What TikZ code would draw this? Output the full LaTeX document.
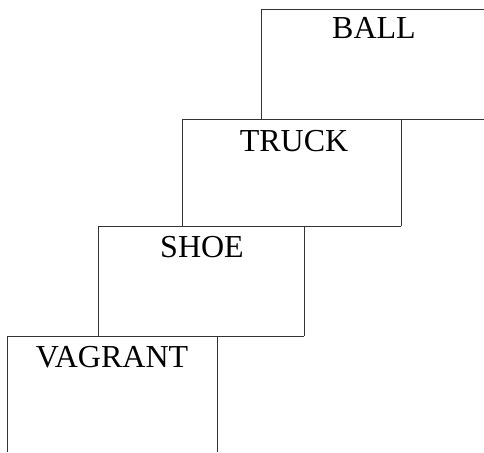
\documentclass[tikz,border=0pt]{standalone}
\usepackage{fontspec}
\setmainfont{Liberation Serif}
\begin{document}
\begin{tikzpicture}[x=1pt,y=-1pt,
  edge/.style={draw=black!80,line width=0.8pt},
  word/.style={anchor=base,inner sep=0pt,font=\fontsize{32}{32}\selectfont,text=black}]
\useasboundingbox (0,0) rectangle (484,452);
% corner points of the stepped boxes
\coordinate (ballTL) at (261,9);
\coordinate (ballTR) at (484,9);
\coordinate (ballBL) at (261,119);
\coordinate (truckTL) at (182,119);
\coordinate (truckTR) at (401,119);
\coordinate (edgeR) at (484,119);
\coordinate (truckBL) at (182,226);
\coordinate (truckBR) at (401,226);
\coordinate (shoeTL) at (98,226);
\coordinate (shoeTR) at (304,226);
\coordinate (shoeBL) at (98,336);
\coordinate (shoeBR) at (304,336);
\coordinate (vagTL) at (7,336);
\coordinate (vagTR) at (217,336);
\coordinate (vagBL) at (7,452);
\coordinate (vagBR) at (217,452);
% box outlines
\draw[edge] (ballTR) -- (ballTL) -- (ballBL);
\draw[edge] (truckTL) -- (edgeR);
\draw[edge] (truckBL) -- (truckTL);
\draw[edge] (truckTR) -- (truckBR);
\draw[edge] (shoeTL) -- (truckBR);
\draw[edge] (shoeBL) -- (shoeTL);
\draw[edge] (shoeTR) -- (shoeBR);
\draw[edge] (vagTL) -- (shoeBR);
\draw[edge] (vagBL) -- (vagTL);
\draw[edge] (vagTR) -- (vagBR);
% labels
\node[word] (ball) at (374,38) {BALL};
\node[word] (truck) at (294,151) {TRUCK};
\node[word] (shoe) at (202,257) {SHOE};
\node[word] (vagrant) at (112,367) {VAGRANT};
\end{tikzpicture}
\end{document}
